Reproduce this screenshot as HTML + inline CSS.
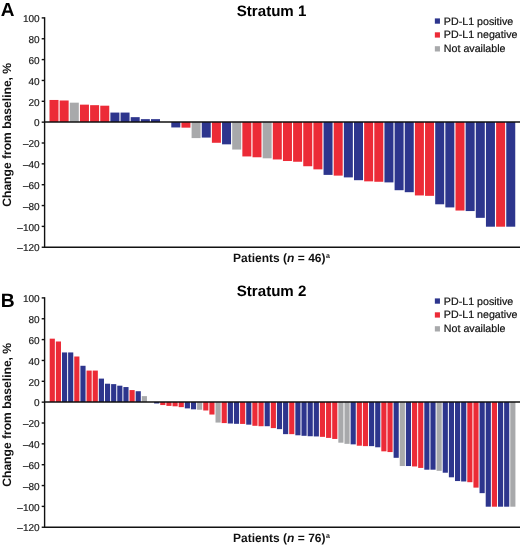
<!DOCTYPE html>
<html><head><meta charset="utf-8"><style>
html,body{margin:0;padding:0;background:#fff;}
body{width:520px;height:546px;overflow:hidden;}
svg{display:block;will-change:transform;font-family:"Liberation Sans",sans-serif;text-rendering:geometricPrecision;}
.let{font-weight:bold;fill:#000;}
.ttl{font-size:15.1px;font-weight:bold;fill:#000;}
.tk{font-size:10px;fill:#222;stroke:#222;stroke-width:0.2px;text-anchor:end;}
.lg{font-size:10.6px;fill:#111;stroke:#111;stroke-width:0.2px;}
.yl{font-size:12.1px;font-weight:bold;fill:#111;}
.xl{font-size:12px;font-weight:bold;fill:#111;}
.sup{font-size:7px;}
.ax{stroke:#111;stroke-width:1.4;}
</style></head><body>
<svg width="520" height="546" viewBox="0 0 520 546">
<rect width="520" height="546" fill="#fff"/>
<g transform="translate(0,0)">
<text x="0.8" y="16.4" class="let" font-size="19">A</text>
<text x="236.77" y="16.06" class="ttl">Stratum 1</text>
<rect x="49.50" y="99.96" width="9.0" height="22.04" fill="#ec2b37"/>
<rect x="59.65" y="100.48" width="9.0" height="21.52" fill="#ec2b37"/>
<rect x="69.80" y="102.67" width="9.0" height="19.33" fill="#a8a9ab"/>
<rect x="79.95" y="104.65" width="9.0" height="17.35" fill="#ec2b37"/>
<rect x="90.10" y="105.17" width="9.0" height="16.83" fill="#ec2b37"/>
<rect x="100.25" y="105.69" width="9.0" height="16.31" fill="#ec2b37"/>
<rect x="110.40" y="112.57" width="9.0" height="9.43" fill="#2d358d"/>
<rect x="120.55" y="112.57" width="9.0" height="9.43" fill="#2d358d"/>
<rect x="130.70" y="117.16" width="9.0" height="4.84" fill="#2d358d"/>
<rect x="140.85" y="119.14" width="9.0" height="2.86" fill="#2d358d"/>
<rect x="151.00" y="119.14" width="9.0" height="2.86" fill="#2d358d"/>
<rect x="171.30" y="122.00" width="9.0" height="5.45" fill="#2d358d"/>
<rect x="181.45" y="122.00" width="9.0" height="5.66" fill="#ec2b37"/>
<rect x="191.60" y="122.00" width="9.0" height="16.09" fill="#a8a9ab"/>
<rect x="201.75" y="122.00" width="9.0" height="15.57" fill="#2d358d"/>
<rect x="211.90" y="122.00" width="9.0" height="20.78" fill="#ec2b37"/>
<rect x="222.05" y="122.00" width="9.0" height="22.34" fill="#2d358d"/>
<rect x="232.20" y="122.00" width="9.0" height="27.56" fill="#a8a9ab"/>
<rect x="242.35" y="122.00" width="9.0" height="34.44" fill="#ec2b37"/>
<rect x="252.50" y="122.00" width="9.0" height="35.27" fill="#ec2b37"/>
<rect x="262.65" y="122.00" width="9.0" height="36.31" fill="#a8a9ab"/>
<rect x="272.80" y="122.00" width="9.0" height="37.46" fill="#ec2b37"/>
<rect x="282.95" y="122.00" width="9.0" height="39.02" fill="#ec2b37"/>
<rect x="293.10" y="122.00" width="9.0" height="39.75" fill="#ec2b37"/>
<rect x="303.25" y="122.00" width="9.0" height="44.24" fill="#ec2b37"/>
<rect x="313.40" y="122.00" width="9.0" height="47.36" fill="#ec2b37"/>
<rect x="323.55" y="122.00" width="9.0" height="52.89" fill="#2d358d"/>
<rect x="333.70" y="122.00" width="9.0" height="53.62" fill="#ec2b37"/>
<rect x="343.85" y="122.00" width="9.0" height="55.39" fill="#2d358d"/>
<rect x="354.00" y="122.00" width="9.0" height="58.20" fill="#2d358d"/>
<rect x="364.15" y="122.00" width="9.0" height="59.35" fill="#ec2b37"/>
<rect x="374.30" y="122.00" width="9.0" height="59.77" fill="#ec2b37"/>
<rect x="384.45" y="122.00" width="9.0" height="60.39" fill="#2d358d"/>
<rect x="394.60" y="122.00" width="9.0" height="68.21" fill="#2d358d"/>
<rect x="404.75" y="122.00" width="9.0" height="70.19" fill="#2d358d"/>
<rect x="414.90" y="122.00" width="9.0" height="73.43" fill="#ec2b37"/>
<rect x="425.05" y="122.00" width="9.0" height="73.84" fill="#ec2b37"/>
<rect x="435.20" y="122.00" width="9.0" height="82.29" fill="#2d358d"/>
<rect x="445.35" y="122.00" width="9.0" height="85.41" fill="#2d358d"/>
<rect x="455.50" y="122.00" width="9.0" height="88.54" fill="#ec2b37"/>
<rect x="465.65" y="122.00" width="9.0" height="89.06" fill="#2d358d"/>
<rect x="475.80" y="122.00" width="9.0" height="95.84" fill="#2d358d"/>
<rect x="485.95" y="122.00" width="9.0" height="104.70" fill="#2d358d"/>
<rect x="496.10" y="122.00" width="9.0" height="104.70" fill="#ec2b37"/>
<rect x="506.25" y="122.00" width="9.0" height="104.70" fill="#2d358d"/>
<line x1="44.6" y1="17.20" x2="44.6" y2="247.95" class="ax"/>
<line x1="44.6" y1="122.00" x2="520" y2="122.00" class="ax"/>
<line x1="44.6" y1="247.25" x2="520" y2="247.25" class="ax"/>
<line x1="41.7" y1="17.90" x2="44.6" y2="17.90" class="ax"/>
<text x="39.6" y="22.10" class="tk">100</text>
<line x1="41.7" y1="38.75" x2="44.6" y2="38.75" class="ax"/>
<text x="39.6" y="42.95" class="tk">80</text>
<line x1="41.7" y1="59.60" x2="44.6" y2="59.60" class="ax"/>
<text x="39.6" y="63.80" class="tk">60</text>
<line x1="41.7" y1="80.45" x2="44.6" y2="80.45" class="ax"/>
<text x="39.6" y="84.65" class="tk">40</text>
<line x1="41.7" y1="101.30" x2="44.6" y2="101.30" class="ax"/>
<text x="39.6" y="105.50" class="tk">20</text>
<line x1="41.7" y1="122.15" x2="44.6" y2="122.15" class="ax"/>
<text x="39.6" y="126.35" class="tk">0</text>
<line x1="41.7" y1="143.00" x2="44.6" y2="143.00" class="ax"/>
<text x="39.6" y="147.20" class="tk">–20</text>
<line x1="41.7" y1="163.85" x2="44.6" y2="163.85" class="ax"/>
<text x="39.6" y="168.05" class="tk">–40</text>
<line x1="41.7" y1="184.70" x2="44.6" y2="184.70" class="ax"/>
<text x="39.6" y="188.90" class="tk">–60</text>
<line x1="41.7" y1="205.55" x2="44.6" y2="205.55" class="ax"/>
<text x="39.6" y="209.75" class="tk">–80</text>
<line x1="41.7" y1="226.40" x2="44.6" y2="226.40" class="ax"/>
<text x="39.6" y="230.60" class="tk">–100</text>
<line x1="41.7" y1="247.25" x2="44.6" y2="247.25" class="ax"/>
<text x="39.6" y="251.45" class="tk">–120</text>
<rect x="434.85" y="18.40" width="5.1" height="5.3" fill="#2d358d"/>
<text transform="translate(443.8,24.80) scale(1.008,1)" class="lg">PD-L1 positive</text>
<rect x="434.85" y="32.30" width="5.1" height="5.3" fill="#ec2b37"/>
<text transform="translate(443.8,38.45) scale(1.008,1)" class="lg">PD-L1 negative</text>
<rect x="434.85" y="46.20" width="5.1" height="5.3" fill="#a8a9ab"/>
<text transform="translate(443.8,52.10) scale(1.008,1)" class="lg">Not available</text>
<text transform="translate(10.9,206.73) rotate(-90)" class="yl">Change from baseline, %</text>
<text x="233.1" y="261.7" class="xl">Patients (<tspan font-style="italic">n</tspan> = 46)<tspan class="sup" dx="0.6" dy="-3.9">a</tspan></text>
</g>
<g transform="translate(0,280)">
<text x="0.73" y="26.9" class="let" font-size="19.3">B</text>
<text x="236.77" y="16.06" class="ttl">Stratum 2</text>
<rect x="49.70" y="58.67" width="5.15" height="63.33" fill="#ec2b37"/>
<rect x="55.84" y="61.49" width="5.15" height="60.51" fill="#ec2b37"/>
<rect x="61.98" y="72.44" width="5.15" height="49.56" fill="#2d358d"/>
<rect x="68.12" y="72.44" width="5.15" height="49.56" fill="#2d358d"/>
<rect x="74.26" y="76.50" width="5.15" height="45.50" fill="#ec2b37"/>
<rect x="80.41" y="85.78" width="5.15" height="36.22" fill="#2d358d"/>
<rect x="86.55" y="90.58" width="5.15" height="31.42" fill="#ec2b37"/>
<rect x="92.69" y="90.58" width="5.15" height="31.42" fill="#ec2b37"/>
<rect x="98.83" y="98.60" width="5.15" height="23.40" fill="#2d358d"/>
<rect x="104.97" y="103.71" width="5.15" height="18.29" fill="#2d358d"/>
<rect x="111.11" y="104.13" width="5.15" height="17.87" fill="#2d358d"/>
<rect x="117.25" y="105.69" width="5.15" height="16.31" fill="#2d358d"/>
<rect x="123.39" y="107.05" width="5.15" height="14.95" fill="#2d358d"/>
<rect x="129.53" y="110.07" width="5.15" height="11.93" fill="#ec2b37"/>
<rect x="135.67" y="111.22" width="5.15" height="10.78" fill="#2d358d"/>
<rect x="141.81" y="116.12" width="5.15" height="5.88" fill="#a8a9ab"/>
<rect x="154.10" y="122.00" width="5.15" height="1.49" fill="#2d358d"/>
<rect x="160.24" y="122.00" width="5.15" height="3.06" fill="#ec2b37"/>
<rect x="166.38" y="122.00" width="5.15" height="3.89" fill="#ec2b37"/>
<rect x="172.52" y="122.00" width="5.15" height="4.31" fill="#ec2b37"/>
<rect x="178.66" y="122.00" width="5.15" height="5.14" fill="#ec2b37"/>
<rect x="184.80" y="122.00" width="5.15" height="6.39" fill="#2d358d"/>
<rect x="190.94" y="122.00" width="5.15" height="7.33" fill="#2d358d"/>
<rect x="197.08" y="122.00" width="5.15" height="7.75" fill="#a8a9ab"/>
<rect x="203.23" y="122.00" width="5.15" height="8.48" fill="#ec2b37"/>
<rect x="209.37" y="122.00" width="5.15" height="12.54" fill="#ec2b37"/>
<rect x="215.51" y="122.00" width="5.15" height="20.57" fill="#a8a9ab"/>
<rect x="221.65" y="122.00" width="5.15" height="21.09" fill="#ec2b37"/>
<rect x="227.79" y="122.00" width="5.15" height="21.51" fill="#2d358d"/>
<rect x="233.93" y="122.00" width="5.15" height="21.82" fill="#2d358d"/>
<rect x="240.07" y="122.00" width="5.15" height="21.93" fill="#ec2b37"/>
<rect x="246.21" y="122.00" width="5.15" height="22.66" fill="#2d358d"/>
<rect x="252.35" y="122.00" width="5.15" height="23.80" fill="#ec2b37"/>
<rect x="258.49" y="122.00" width="5.15" height="24.22" fill="#ec2b37"/>
<rect x="264.63" y="122.00" width="5.15" height="24.22" fill="#2d358d"/>
<rect x="270.78" y="122.00" width="5.15" height="26.10" fill="#ec2b37"/>
<rect x="276.92" y="122.00" width="5.15" height="27.14" fill="#2d358d"/>
<rect x="283.06" y="122.00" width="5.15" height="32.14" fill="#2d358d"/>
<rect x="289.20" y="122.00" width="5.15" height="32.14" fill="#ec2b37"/>
<rect x="295.34" y="122.00" width="5.15" height="33.29" fill="#2d358d"/>
<rect x="301.48" y="122.00" width="5.15" height="33.81" fill="#2d358d"/>
<rect x="307.62" y="122.00" width="5.15" height="34.23" fill="#2d358d"/>
<rect x="313.76" y="122.00" width="5.15" height="34.44" fill="#2d358d"/>
<rect x="319.90" y="122.00" width="5.15" height="34.85" fill="#ec2b37"/>
<rect x="326.05" y="122.00" width="5.15" height="35.90" fill="#ec2b37"/>
<rect x="332.19" y="122.00" width="5.15" height="36.94" fill="#ec2b37"/>
<rect x="338.33" y="122.00" width="5.15" height="40.69" fill="#a8a9ab"/>
<rect x="344.47" y="122.00" width="5.15" height="41.84" fill="#a8a9ab"/>
<rect x="350.61" y="122.00" width="5.15" height="42.36" fill="#2d358d"/>
<rect x="356.75" y="122.00" width="5.15" height="43.71" fill="#ec2b37"/>
<rect x="362.89" y="122.00" width="5.15" height="44.13" fill="#ec2b37"/>
<rect x="369.03" y="122.00" width="5.15" height="44.13" fill="#2d358d"/>
<rect x="375.17" y="122.00" width="5.15" height="45.28" fill="#2d358d"/>
<rect x="381.31" y="122.00" width="5.15" height="49.34" fill="#ec2b37"/>
<rect x="387.45" y="122.00" width="5.15" height="50.07" fill="#ec2b37"/>
<rect x="393.60" y="122.00" width="5.15" height="55.81" fill="#2d358d"/>
<rect x="399.74" y="122.00" width="5.15" height="64.04" fill="#a8a9ab"/>
<rect x="405.88" y="122.00" width="5.15" height="64.04" fill="#2d358d"/>
<rect x="412.02" y="122.00" width="5.15" height="64.46" fill="#ec2b37"/>
<rect x="418.16" y="122.00" width="5.15" height="65.92" fill="#ec2b37"/>
<rect x="424.30" y="122.00" width="5.15" height="67.69" fill="#2d358d"/>
<rect x="430.44" y="122.00" width="5.15" height="67.69" fill="#2d358d"/>
<rect x="436.58" y="122.00" width="5.15" height="68.84" fill="#a8a9ab"/>
<rect x="442.72" y="122.00" width="5.15" height="70.71" fill="#2d358d"/>
<rect x="448.87" y="122.00" width="5.15" height="75.30" fill="#2d358d"/>
<rect x="455.01" y="122.00" width="5.15" height="79.05" fill="#2d358d"/>
<rect x="461.15" y="122.00" width="5.15" height="79.47" fill="#2d358d"/>
<rect x="467.29" y="122.00" width="5.15" height="80.20" fill="#ec2b37"/>
<rect x="473.43" y="122.00" width="5.15" height="85.62" fill="#ec2b37"/>
<rect x="479.57" y="122.00" width="5.15" height="91.15" fill="#2d358d"/>
<rect x="485.71" y="122.00" width="5.15" height="104.70" fill="#2d358d"/>
<rect x="491.85" y="122.00" width="5.15" height="104.70" fill="#ec2b37"/>
<rect x="497.99" y="122.00" width="5.15" height="104.70" fill="#2d358d"/>
<rect x="504.13" y="122.00" width="5.15" height="104.70" fill="#2d358d"/>
<rect x="510.27" y="122.00" width="5.15" height="104.70" fill="#a8a9ab"/>
<line x1="44.6" y1="17.20" x2="44.6" y2="247.95" class="ax"/>
<line x1="44.6" y1="122.00" x2="520" y2="122.00" class="ax"/>
<line x1="44.6" y1="247.25" x2="520" y2="247.25" class="ax"/>
<line x1="41.7" y1="17.90" x2="44.6" y2="17.90" class="ax"/>
<text x="39.6" y="22.10" class="tk">100</text>
<line x1="41.7" y1="38.75" x2="44.6" y2="38.75" class="ax"/>
<text x="39.6" y="42.95" class="tk">80</text>
<line x1="41.7" y1="59.60" x2="44.6" y2="59.60" class="ax"/>
<text x="39.6" y="63.80" class="tk">60</text>
<line x1="41.7" y1="80.45" x2="44.6" y2="80.45" class="ax"/>
<text x="39.6" y="84.65" class="tk">40</text>
<line x1="41.7" y1="101.30" x2="44.6" y2="101.30" class="ax"/>
<text x="39.6" y="105.50" class="tk">20</text>
<line x1="41.7" y1="122.15" x2="44.6" y2="122.15" class="ax"/>
<text x="39.6" y="126.35" class="tk">0</text>
<line x1="41.7" y1="143.00" x2="44.6" y2="143.00" class="ax"/>
<text x="39.6" y="147.20" class="tk">–20</text>
<line x1="41.7" y1="163.85" x2="44.6" y2="163.85" class="ax"/>
<text x="39.6" y="168.05" class="tk">–40</text>
<line x1="41.7" y1="184.70" x2="44.6" y2="184.70" class="ax"/>
<text x="39.6" y="188.90" class="tk">–60</text>
<line x1="41.7" y1="205.55" x2="44.6" y2="205.55" class="ax"/>
<text x="39.6" y="209.75" class="tk">–80</text>
<line x1="41.7" y1="226.40" x2="44.6" y2="226.40" class="ax"/>
<text x="39.6" y="230.60" class="tk">–100</text>
<line x1="41.7" y1="247.25" x2="44.6" y2="247.25" class="ax"/>
<text x="39.6" y="251.45" class="tk">–120</text>
<rect x="434.85" y="18.40" width="5.1" height="5.3" fill="#2d358d"/>
<text transform="translate(443.8,24.80) scale(1.008,1)" class="lg">PD-L1 positive</text>
<rect x="434.85" y="32.30" width="5.1" height="5.3" fill="#ec2b37"/>
<text transform="translate(443.8,38.45) scale(1.008,1)" class="lg">PD-L1 negative</text>
<rect x="434.85" y="46.20" width="5.1" height="5.3" fill="#a8a9ab"/>
<text transform="translate(443.8,52.10) scale(1.008,1)" class="lg">Not available</text>
<text transform="translate(10.9,206.73) rotate(-90)" class="yl">Change from baseline, %</text>
<text x="233.1" y="261.7" class="xl">Patients (<tspan font-style="italic">n</tspan> = 76)<tspan class="sup" dx="0.6" dy="-3.9">a</tspan></text>
</g>
</svg>
</body></html>
